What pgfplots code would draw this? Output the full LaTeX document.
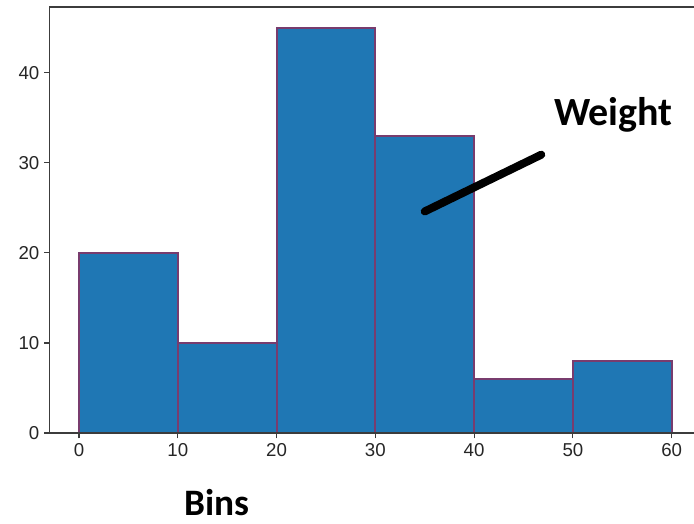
\documentclass[border=0pt]{standalone}
\usepackage{pgfplots}
\pgfplotsset{compat=1.18}
\usepackage{fontspec}
\setmainfont{Liberation Sans}
\newfontfamily\calibri{Carlito}
\definecolor{barblue}{HTML}{1F77B4}
\definecolor{baredge}{RGB}{120,60,110}
\definecolor{spine}{RGB}{60,60,60}
\tikzset{histbar/.style={fill=barblue, draw=baredge, line width=1.4pt, mark=none}}
\begin{document}
\begin{tikzpicture}
\begin{axis}[
  scale only axis,
  width=483.45pt, height=319.5pt,
  xmin=-3, xmax=62.26, ymin=0, ymax=47.3,
  axis x line*=bottom, axis y line*=left,
  axis line style={-, spine, line width=1.1pt},
  axis on top,
  xtick={0,10,...,60}, ytick={0,10,...,40},
  tick align=outside,
  major tick length=4pt,
  tick style={spine, line width=0.9pt},
  ticklabel style={font=\fontsize{14}{16}\selectfont, text=black!85},
  /pgf/number format/assume math mode=true,
  clip=false,
]
\addplot[histbar] coordinates {(0,0) (0,20) (10,20) (10,0)} --cycle;
\addplot[histbar] coordinates {(10,0) (10,10) (20,10) (20,0)} --cycle;
\addplot[histbar] coordinates {(20,0) (20,45) (30,45) (30,0)} --cycle;
\addplot[histbar] coordinates {(30,0) (30,33) (40,33) (40,0)} --cycle;
\addplot[histbar] coordinates {(40,0) (40,6) (50,6) (50,0)} --cycle;
\addplot[histbar] coordinates {(50,0) (50,8) (60,8) (60,0)} --cycle;
\draw[spine, line width=1.1pt] (rel axis cs:0,1) -- (rel axis cs:1,1);
\draw[black, line width=6pt, line cap=round] (axis cs:35.0,24.6) -- (axis cs:46.8,30.9);
\node[font=\calibri\bfseries\fontsize{30}{32}\selectfont] at (axis cs:54.1,35.3) {Weight};
\node[font=\calibri\bfseries\fontsize{28}{30}\selectfont] at (axis cs:14.0,-7.7) {Bins};
\coordinate (bl) at (rel axis cs:0,0);
\end{axis}
\pgfresetboundingbox
\path (bl) ++(-37.05pt,-68.25pt) rectangle ++(520.5pt,393pt);
\end{tikzpicture}
\end{document}
